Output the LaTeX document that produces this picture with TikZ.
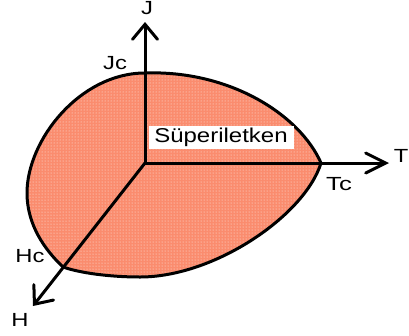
\documentclass[tikz,border=0pt]{standalone}
\usepackage{fontspec}
\usepackage{graphicx}
\setmainfont{Liberation Sans}
\usetikzlibrary{arrows.meta,patterns}
\definecolor{salmonfill}{RGB}{250,140,110}
\begin{document}
\begin{tikzpicture}[x=1pt,y=-1pt,
  axis/.style={line width=3pt},
  barbv/.style={-{Straight Barb[length=15pt,width=25pt,line width=3pt,line cap=round]}},
  barbt/.style={-{Straight Barb[length=20pt,width=20pt,line width=3pt,line cap=round]}},
  lbl/.style={inner sep=0pt,font=\fontsize{19}{19}\selectfont},
  region/.style={fill=salmonfill},
  dotsover/.style={pattern=dots,pattern color=white!85!salmonfill},
  outline/.style={line width=3pt,line join=round}]
\useasboundingbox (0,0) rectangle (409,335);
\coordinate (O) at (145,163);
\coordinate (Jc) at (145,73);
\coordinate (Tc) at (321,163);
\coordinate (Hc) at (63,267);
\coordinate (B) at (140,277);
\coordinate (L) at (27,193);
\coordinate (Jtip) at (145,22);
\coordinate (Ttip) at (389,163);
\coordinate (Htip) at (33,306);
% region
\path[region] (Jc) .. controls (230,70) and (300,115) .. (Tc)
  .. controls (305,215) and (215,277) .. (B)
  .. controls (110,277) and (80,273) .. (Hc)
  .. controls (45,250) and (27,225) .. (L)
  .. controls (27,140) and (80,73) .. (Jc) -- cycle;
\path[dotsover] (Jc) .. controls (230,70) and (300,115) .. (Tc)
  .. controls (305,215) and (215,277) .. (B)
  .. controls (110,277) and (80,273) .. (Hc)
  .. controls (45,250) and (27,225) .. (L)
  .. controls (27,140) and (80,73) .. (Jc) -- cycle;
\draw[outline] (Jc) .. controls (230,70) and (300,115) .. (Tc)
  .. controls (305,215) and (215,277) .. (B)
  .. controls (110,277) and (80,273) .. (Hc)
  .. controls (45,250) and (27,225) .. (L)
  .. controls (27,140) and (80,73) .. (Jc) -- cycle;
% axes
\draw[axis,barbv] (O) -- (Jtip);
\draw[axis,barbt] (O) -- (Ttip);
\draw[axis,barbv] (O) -- (Htip);
% box
\node[fill=white,inner sep=0pt,minimum width=145pt,minimum height=23pt] (lab) at (221,137)
  {\fontsize{20}{20}\selectfont\scalebox{1.2}[1]{Süperiletken}};
% labels
\node[lbl] (lJ) at (147,8) {\scalebox{1.25}[1]{J}};
\node[lbl] (lT) at (401,156) {\scalebox{1.25}[1]{T}};
\node[lbl] (lH) at (20,320) {\scalebox{1.25}[1]{H}};
\node[lbl] (lJc) at (115,63) {\scalebox{1.25}[1]{Jc}};
\node[lbl] (lTc) at (339,184) {\scalebox{1.35}[1]{Tc}};
\node[lbl] (lHc) at (30,256) {\scalebox{1.25}[1]{Hc}};
\end{tikzpicture}
\end{document}
